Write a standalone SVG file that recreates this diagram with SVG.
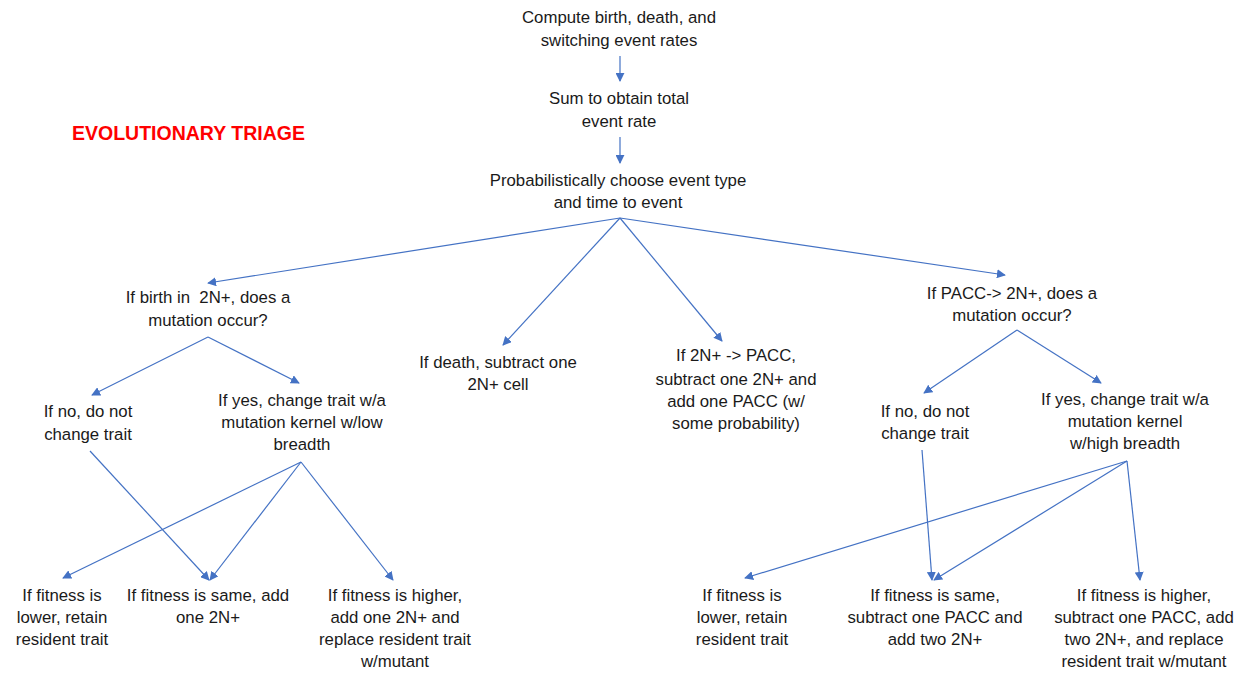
<svg xmlns="http://www.w3.org/2000/svg" width="1247" height="675" viewBox="0 0 1247 675">
<defs>
<marker id="ah" viewBox="0 0 10 10" refX="9" refY="5" markerWidth="9" markerHeight="9" markerUnits="userSpaceOnUse" orient="auto">
<path d="M0,0 L10,5 L0,10 Z" fill="#4472C4"/>
</marker>
<style>
.t{font-family:"Liberation Sans",Arial,sans-serif;font-size:16.8px;fill:#1a1a1a;text-anchor:middle}
.c{stroke:#4472C4;stroke-width:1.2;fill:none}
.a{marker-end:url(#ah)}
.title{font-family:"Liberation Sans",Arial,sans-serif;font-size:19.5px;font-weight:bold;fill:#FF0000}
</style>
</defs>
<rect width="1247" height="675" fill="#ffffff"/>
<text class="title" x="72" y="140">EVOLUTIONARY TRIAGE</text>
<g id="connectors">
<line class="c a" x1="620" y1="56" x2="620" y2="81"/>
<line class="c a" x1="620" y1="137" x2="620" y2="163"/>
<line class="c a" x1="620" y1="218" x2="208" y2="283"/>
<line class="c a" x1="620" y1="218" x2="503" y2="345"/>
<line class="c a" x1="620" y1="218" x2="722" y2="341"/>
<line class="c a" x1="620" y1="218" x2="1005" y2="275"/>
<line class="c a" x1="208" y1="337" x2="92" y2="395"/>
<line class="c a" x1="208" y1="337" x2="299" y2="383"/>
<line class="c a" x1="90" y1="451" x2="209" y2="580"/>
<line class="c a" x1="301" y1="462" x2="63" y2="578"/>
<line class="c a" x1="301" y1="462" x2="210" y2="580"/>
<line class="c a" x1="301" y1="462" x2="393" y2="580"/>
<line class="c a" x1="1017" y1="330" x2="924" y2="393"/>
<line class="c a" x1="1017" y1="330" x2="1101" y2="383"/>
<line class="c a" x1="922" y1="450" x2="932" y2="580"/>
<line class="c a" x1="1127" y1="461" x2="745" y2="578"/>
<line class="c a" x1="1127" y1="461" x2="934" y2="580"/>
<line class="c a" x1="1127" y1="461" x2="1140" y2="580"/>
</g>
<g id="n1"><text class="t"><tspan x="619" y="23">Compute birth, death, and</tspan><tspan x="619" y="46">switching event rates</tspan></text></g>
<g id="n2"><text class="t"><tspan x="619" y="104">Sum to obtain total</tspan><tspan x="619" y="127">event rate</tspan></text></g>
<g id="n3"><text class="t"><tspan x="618" y="186">Probabilistically choose event type</tspan><tspan x="618" y="208">and time to event</tspan></text></g>
<g id="n4"><text class="t"><tspan x="208" y="303">If birth in&#160; 2N+, does a</tspan><tspan x="208" y="326">mutation occur?</tspan></text></g>
<g id="n5"><text class="t"><tspan x="498" y="368">If death, subtract one</tspan><tspan x="498" y="390">2N+ cell</tspan></text></g>
<g id="n6"><text class="t"><tspan x="736" y="361">If 2N+ -&gt; PACC,</tspan><tspan x="736" y="385">subtract one 2N+ and</tspan><tspan x="736" y="407">add one PACC (w/</tspan><tspan x="736" y="429">some probability)</tspan></text></g>
<g id="n7"><text class="t"><tspan x="1012" y="299">If PACC-&gt; 2N+, does a</tspan><tspan x="1012" y="321">mutation occur?</tspan></text></g>
<g id="n8"><text class="t"><tspan x="88" y="417">If no, do not</tspan><tspan x="88" y="440">change trait</tspan></text></g>
<g id="n9"><text class="t"><tspan x="302" y="406">If yes, change trait w/a</tspan><tspan x="302" y="428">mutation kernel w/low</tspan><tspan x="302" y="450">breadth</tspan></text></g>
<g id="n10"><text class="t"><tspan x="925" y="417">If no, do not</tspan><tspan x="925" y="439">change trait</tspan></text></g>
<g id="n11"><text class="t"><tspan x="1125" y="405">If yes, change trait w/a</tspan><tspan x="1125" y="427">mutation kernel</tspan><tspan x="1125" y="449">w/high breadth</tspan></text></g>
<g id="n12"><text class="t"><tspan x="62" y="601">If fitness is</tspan><tspan x="62" y="623">lower, retain</tspan><tspan x="62" y="645">resident trait</tspan></text></g>
<g id="n13"><text class="t"><tspan x="208" y="601">If fitness is same, add</tspan><tspan x="208" y="623">one 2N+</tspan></text></g>
<g id="n14"><text class="t"><tspan x="395" y="601">If fitness is higher,</tspan><tspan x="395" y="623">add one 2N+ and</tspan><tspan x="395" y="645">replace resident trait</tspan><tspan x="395" y="667">w/mutant</tspan></text></g>
<g id="n15"><text class="t"><tspan x="742" y="601">If fitness is</tspan><tspan x="742" y="623">lower, retain</tspan><tspan x="742" y="645">resident trait</tspan></text></g>
<g id="n16"><text class="t"><tspan x="935" y="601">If fitness is same,</tspan><tspan x="935" y="623">subtract one PACC and</tspan><tspan x="935" y="645">add two 2N+</tspan></text></g>
<g id="n17"><text class="t"><tspan x="1144" y="601">If fitness is higher,</tspan><tspan x="1144" y="623">subtract one PACC, add</tspan><tspan x="1144" y="645">two 2N+, and replace</tspan><tspan x="1144" y="667">resident trait w/mutant</tspan></text></g>
</svg>
